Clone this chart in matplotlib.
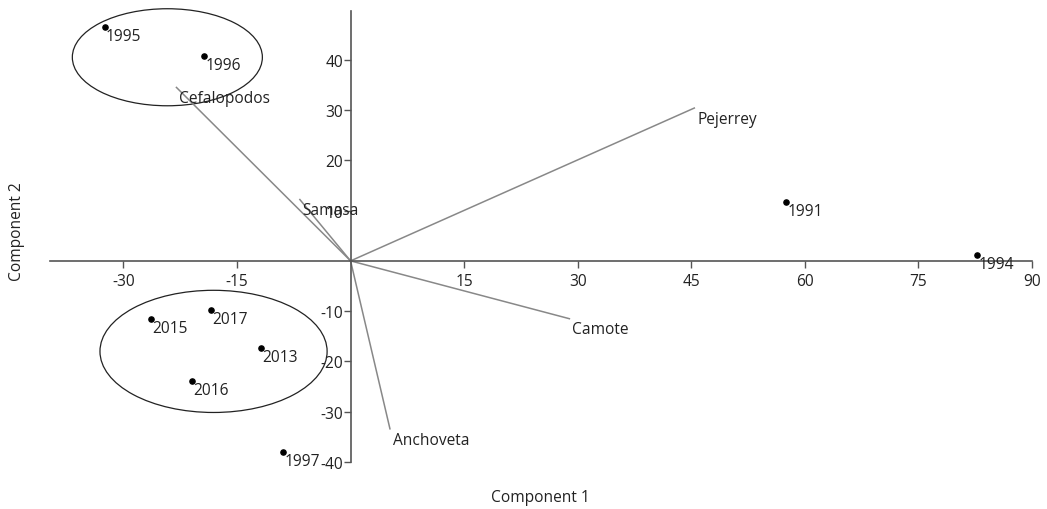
import numpy as np
import matplotlib
matplotlib.use("Agg")
import matplotlib.pyplot as plt
from matplotlib.patches import Ellipse

plt.rcParams['font.family'] = ['Open Sans', 'DejaVu Sans']
plt.rcParams['axes.unicode_minus'] = False

# Diem (scores) cua cac nam tren 2 thanh phan chinh
nam = ["1995", "1996", "1991", "1994", "2015", "2017", "2013", "2016", "1997"]
comp1 = [-32.5, -19.4, 57.5, 82.8, -26.4, -18.5, -11.8, -20.9, -8.9]
comp2 = [46.5, 40.8, 11.7, 1.2, -11.5, -9.7, -17.3, -23.9, -38.0]

# Vecto cac loai (loadings)
loai = ["Cefalopodos", "Samasa", "Pejerrey", "Camote", "Anchoveta"]
vec_x = [-23.0, -6.7, 45.4, 28.9, 5.2]
vec_y = [34.5, 12.2, 30.4, -11.5, -33.4]

# Ellipse nhom: tam x, tam y, rong, cao
elip_cx = [-24.2, -18.1]
elip_cy = [40.5, -18.0]
elip_w = [25.1, 30.0]
elip_h = [19.3, 24.3]

xticks = [-30, -15, 15, 30, 45, 60, 75, 90]
yticks = [-40, -30, -20, -10, 10, 20, 30, 40]

W, H = 1047, 510
fig = plt.figure(figsize=(W / 100, H / 100), dpi=100)
ax = fig.add_axes([50 / W, 1 - 463 / H, (1032 - 50) / W, (463 - 12) / H])
ax.set_xlim(-39.7, 90)
ax.set_ylim(-40, 49.7)

for s in ['top', 'right']:
    ax.spines[s].set_visible(False)
ax.spines['left'].set_position(('data', 0))
ax.spines['bottom'].set_position(('data', 0))
for s in ['left', 'bottom']:
    ax.spines[s].set_color('#555555')
    ax.spines[s].set_linewidth(1.2)

ax.set_xticks(xticks)
ax.set_yticks(yticks)
ax.tick_params(direction='out', length=5, width=1, color='#555555',
               labelsize=11.2, labelcolor='#222222')
ax.tick_params(axis='y', pad=0.5)
ax.tick_params(axis='x', pad=4)

# Vecto
for i in range(len(loai)):
    ax.plot([0, vec_x[i]], [0, vec_y[i]], color='#888888', lw=1.1, clip_on=False)
    ax.annotate(loai[i], (vec_x[i], vec_y[i]), xytext=(2, -2),
                textcoords='offset points', ha='left', va='top',
                fontsize=11.2, color='#222222', annotation_clip=False)

# Ellipse
for i in range(len(elip_cx)):
    ax.add_patch(Ellipse((elip_cx[i], elip_cy[i]), elip_w[i], elip_h[i],
                         fill=False, edgecolor='#222222', lw=0.9, clip_on=False))

# Diem
ax.scatter(comp1, comp2, s=14, color='black', zorder=5, clip_on=False)
for i in range(len(nam)):
    ax.annotate(nam[i], (comp1[i], comp2[i]), xytext=(1, -1),
                textcoords='offset points', ha='left', va='top',
                fontsize=11.2, color='#222222', annotation_clip=False)

fig.text(540 / W, 1 - 498 / H, "Component 1", ha='center', va='center',
         fontsize=11.2, color='#222222')
fig.text(17 / W, 1 - 232 / H, "Component 2", ha='center', va='center',
         rotation=90, fontsize=11.2, color='#222222')

fig.savefig("out.png", dpi=100)
